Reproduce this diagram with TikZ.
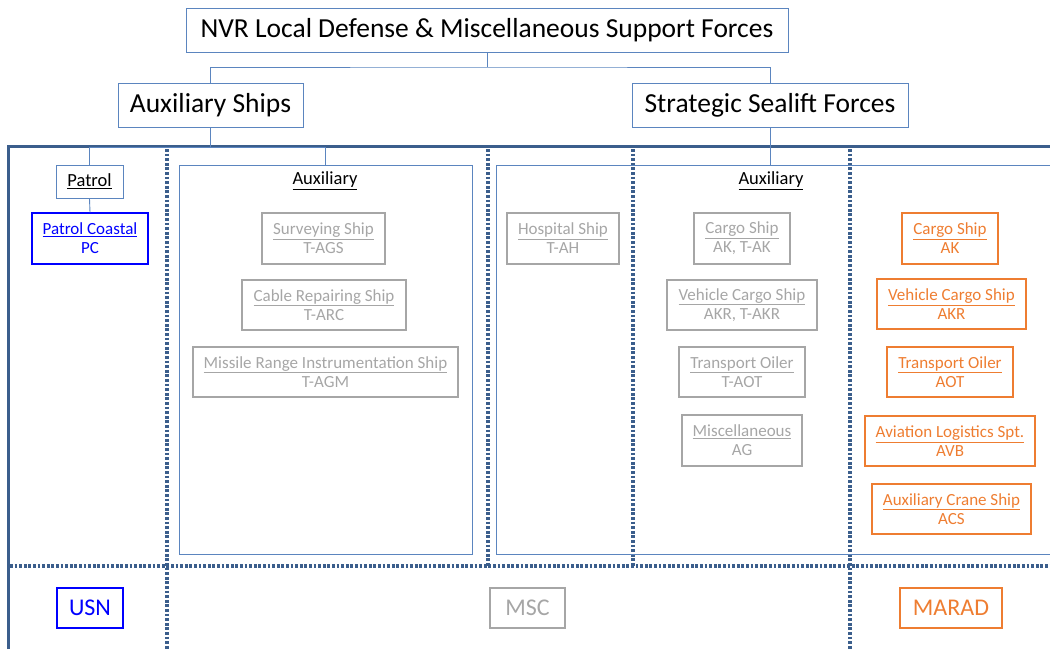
\documentclass[tikz,border=0pt]{standalone}
\usepackage{fontspec}
\setmainfont{Carlito}
\definecolor{lineblue}{HTML}{5B85BF}
\definecolor{darkblue}{HTML}{3B5E8C}
\definecolor{greyc}{HTML}{A6A6A6}
\definecolor{orangec}{HTML}{EE7D31}
\definecolor{bluec}{HTML}{0000FF}
\newcommand{\smallf}{\fontsize{17}{19}\selectfont}
\newcommand{\hdrf}{\fontsize{18.5}{20}\selectfont}
\newcommand{\bigf}{\fontsize{27.5}{29}\selectfont}
\newcommand{\botf}{\fontsize{24}{26}\selectfont}
\newcommand{\two}[2]{\underline{#1}\\#2}
\begin{document}
\begin{tikzpicture}[x=1pt,y=-1pt,
  bx/.style={draw=lineblue, line width=1pt, inner sep=0pt, align=center},
  greybox/.style={draw=greyc, line width=1.2pt, inner sep=0pt, align=center, text=greyc, font=\smallf},
  orangebox/.style={draw=orangec, line width=1.2pt, inner sep=0pt, align=center, text=orangec, font=\smallf},
  bluebox/.style={draw=bluec, line width=1.2pt, inner sep=0pt, align=center, text=bluec, font=\smallf},
  conn/.style={draw=lineblue, line width=0.9pt},
  dotline/.style={draw=darkblue, line width=3.2pt, dash pattern=on 2.8pt off 1.8pt},
  thick frame/.style={draw=darkblue, line width=3pt}]
\useasboundingbox (0,0) rectangle (1050,649);

% frame and dotted division lines
\draw[thick frame] (8,649) -- (8,146) -- (1052,146);
\draw[dotline] (167,149) -- (167,649);
\draw[dotline] (488,149) -- (488,566);
\draw[dotline] (633,149) -- (633,566);
\draw[dotline] (850,149) -- (850,649);
\draw[dotline] (10,566) -- (1050,566);

% top level
\node[bx, font=\bigf, minimum width=602, minimum height=44] (top) at (487,30) {NVR Local Defense \& Miscellaneous Support Forces};
\node[bx, font=\bigf, minimum width=185, minimum height=44] (auxS) at (210.5,105) {Auxiliary Ships};
\node[bx, font=\bigf, minimum width=276, minimum height=44] (ssf) at (770,105) {Strategic Sealift Forces};

\coordinate (j0) at (487,67);
\draw[conn] (top.south) -- (j0);
\draw[conn] (auxS.north) |- (j0) -| (ssf.north);

% left groups
\node[bx, font=\hdrf, minimum width=67, minimum height=33] (patrol) at (89.5,181.5) {\underline{Patrol}};
\node[bluebox, minimum width=116, minimum height=51] (pc) at (90,238.5) {\two{Patrol Coastal}{PC}};
\node[bx, minimum width=293, minimum height=389] (auxL) at (325.5,359.5) {};
\node[font=\hdrf, inner sep=0pt] (hdrL) at (325,181) {\underline{Auxiliary}};

\coordinate (j1) at (210.5,147.5);
\draw[conn] (auxS.south) -- (j1);
\draw[conn] (patrol.north) |- (j1) -| (auxL.north);
\draw[conn] (patrol.south) -- (pc.north);

\node[greybox, minimum width=123, minimum height=51] (ags) at (323.5,238.5) {\two{Surveying Ship}{T-AGS}};
\node[greybox, minimum width=164, minimum height=50] (arc) at (324,305) {\two{Cable Repairing Ship}{T-ARC}};
\node[greybox, minimum width=265, minimum height=50] (agm) at (325.5,372) {\two{Missile Range Instrumentation Ship}{T-AGM}};

% right group
\node[bx, minimum width=566, minimum height=389] (auxR) at (779,359.5) {};
\node[font=\hdrf, inner sep=0pt] (hdrR) at (771,181) {\underline{Auxiliary}};
\draw[conn] (ssf.south) -- (ssf.south |- auxR.north);

\node[greybox, minimum width=112, minimum height=51] (ah) at (563,238.5) {\two{Hospital Ship}{T-AH}};
\node[greybox, minimum width=96, minimum height=51] (gak) at (742,238.5) {\two{Cargo Ship}{AK, T-AK}};
\node[greybox, minimum width=150, minimum height=50] (gakr) at (742,305) {\two{Vehicle Cargo Ship}{AKR, T-AKR}};
\node[greybox, minimum width=126, minimum height=50] (gaot) at (742,372) {\two{Transport Oiler}{T-AOT}};
\node[greybox, minimum width=120, minimum height=51] (ag) at (742,440.5) {\two{Miscellaneous}{AG}};

\node[orangebox, minimum width=96, minimum height=51] (oak) at (950,238.5) {\two{Cargo Ship}{AK}};
\node[orangebox, minimum width=149, minimum height=50] (oakr) at (951.5,304) {\two{Vehicle Cargo Ship}{AKR}};
\node[orangebox, minimum width=126, minimum height=50] (oaot) at (950,372) {\two{Transport Oiler}{AOT}};
\node[orangebox, minimum width=170, minimum height=50] (oavb) at (950,441) {\two{Aviation Logistics Spt.}{AVB}};
\node[orangebox, minimum width=159, minimum height=50] (oacs) at (951.5,509) {\two{Auxiliary Crane Ship}{ACS}};

% bottom labels
\node[bluebox, font=\botf, minimum width=66, minimum height=40] (usn) at (90,608) {USN};
\node[greybox, font=\botf, minimum width=75, minimum height=40] (msc) at (527.5,608) {MSC};
\node[orangebox, font=\botf, minimum width=102, minimum height=40] (marad) at (951,608) {MARAD};
\end{tikzpicture}
\end{document}
